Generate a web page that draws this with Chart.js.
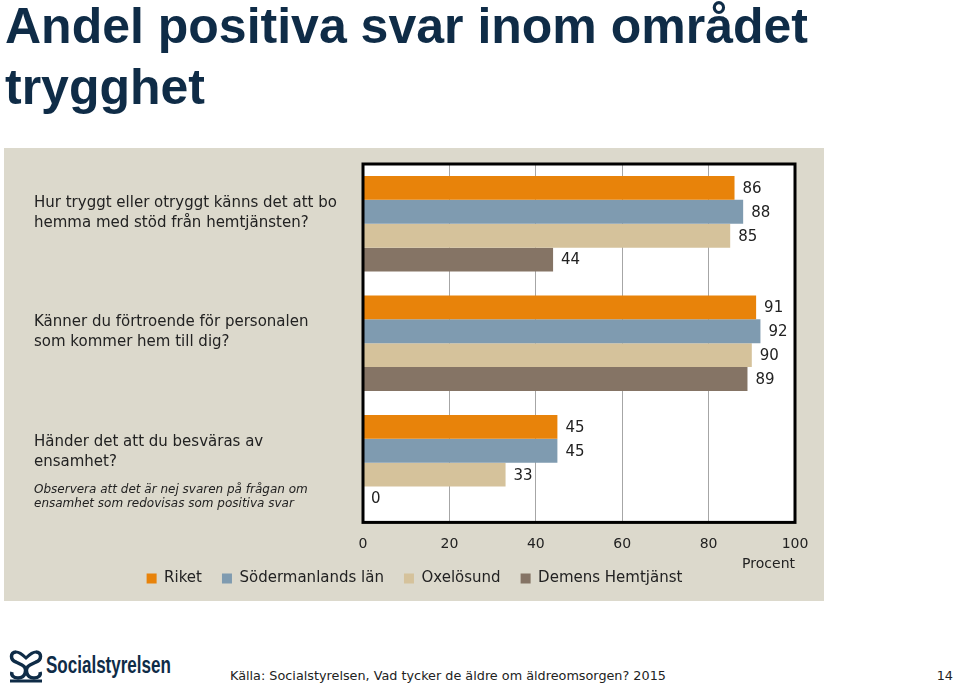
<!DOCTYPE html>
<html>
<head>
<meta charset="utf-8">
<script src="https://cdn.jsdelivr.net/npm/chart.js@4.4.1/dist/chart.umd.min.js"></script>
<style>
  body { margin: 0; background: #fff; font-family: "Liberation Sans", Arial, sans-serif; }
  #page { position: relative; width: 959px; height: 688px; overflow: hidden; }
  #title { position: absolute; left: 5px; top: -4px; width: 900px; font-weight: bold; font-size: 50px; line-height: 61px; color: #0f2c47; }
  #panel { position: absolute; left: 4px; top: 148px; width: 820px; height: 453px; background: #dcd9cc; }
  #logo { position: absolute; left: 8px; top: 648px; height: 36px; }
  #logotext { position: absolute; left: 46px; top: 652px; font-weight: bold; font-size: 23px; color: #0f2c47; transform: scaleX(0.74); transform-origin: left top; }
  #source { position: absolute; left: 230px; top: 668px; font-family: "DejaVu Sans", sans-serif; font-size: 12.8px; color: #222; }
  #pageno { position: absolute; right: 6px; top: 668px; font-family: "DejaVu Sans", sans-serif; font-size: 12.8px; color: #222; }
</style>
</head>
<body>
<div id="page">
  <div id="title">Andel positiva svar inom området trygghet</div>
  <div id="panel"><canvas id="chart"></canvas></div>
  <svg id="logo" width="36" height="36" viewBox="0 0 36 36">
    <path d="M8 4 C2 4 2 12 8 14 L14 17 C20 20 18 30 10 30 C5 30 3 27 4 24" fill="none" stroke="#0f2c47" stroke-width="3.5"/>
    <path d="M28 4 C34 4 34 12 28 14 L22 17 C16 20 18 30 26 30 C31 30 33 27 32 24" fill="none" stroke="#0f2c47" stroke-width="3.5"/>
    <path d="M8 4 C12 4 16 8 18 10 C20 8 24 4 28 4" fill="none" stroke="#0f2c47" stroke-width="3"/>
    <path d="M2 33 L34 33" stroke="#0f2c47" stroke-width="3"/>
  </svg>
  <div id="logotext">Socialstyrelsen</div>
  <div id="source">Källa: Socialstyrelsen, Vad tycker de äldre om äldreomsorgen? 2015</div>
  <div id="pageno">14</div>
</div>
<script>
// data
const categories = [
	["Hur tryggt eller otryggt känns det att bo", "hemma med stöd från hemtjänsten?"],
	["Känner du förtroende för personalen", "som kommer hem till dig?"],
	["Händer det att du besväras av", "ensamhet?"]
];
const seriesNames = ["Riket", "Södermanlands län", "Oxelösund", "Demens Hemtjänst"];
const riket = [86, 91, 45];
const sodermanland = [88, 92, 45];
const oxelosund = [85, 90, 33];
const demens = [44, 89, 0];
const xTicks = [0, 20, 40, 60, 80, 100];
const noteLines = ["Observera att det är nej svaren på frågan om", "ensamhet som redovisas som positiva svar"];

const colors = ["#e8830a", "#7f9bb0", "#d5c29b", "#857465"];
const fontFamily = '"DejaVu Sans", sans-serif';

// white plot background + black frame
const framePlugin = {
	id: 'frame',
	beforeDraw(chart) {
		const a = chart.chartArea, ctx = chart.ctx;
		ctx.save();
		ctx.fillStyle = '#fff';
		ctx.fillRect(a.left, a.top, a.right - a.left, a.bottom - a.top);
		ctx.restore();
	},
	afterDatasetsDraw(chart) {
		const a = chart.chartArea, ctx = chart.ctx;
		ctx.save();
		ctx.strokeStyle = '#000';
		ctx.lineWidth = 3;
		ctx.strokeRect(a.left, a.top, a.right - a.left, a.bottom - a.top);
		ctx.restore();
	}
};

// value labels at the bar ends
const valuePlugin = {
	id: 'values',
	afterDatasetsDraw(chart) {
		const ctx = chart.ctx;
		ctx.save();
		ctx.font = '15px ' + fontFamily;
		ctx.fillStyle = '#222';
		ctx.textAlign = 'left';
		ctx.textBaseline = 'middle';
		chart.data.datasets.forEach((ds, i) => {
			chart.getDatasetMeta(i).data.forEach((bar, j) => {
				ctx.fillText(ds.data[j], bar.x + 8, bar.y + 1);
			});
		});
		ctx.restore();
	}
};

// italic note under the third question
const notePlugin = {
	id: 'note',
	afterDraw(chart) {
		const ctx = chart.ctx;
		const y = chart.scales.y.getPixelForValue(2);
		ctx.save();
		ctx.font = 'italic 12px ' + fontFamily;
		ctx.fillStyle = '#222';
		ctx.textAlign = 'left';
		ctx.textBaseline = 'middle';
		noteLines.forEach((t, k) => ctx.fillText(t, chart.scales.y.left, y + 27 + k * 14));
		ctx.restore();
	}
};

const ctx = document.getElementById('chart');
const chart = new Chart(ctx, {
	type: 'bar',
	data: {
		labels: categories,
		datasets: [riket, sodermanland, oxelosund, demens].map((d, i) => ({
			label: seriesNames[i],
			data: d,
			backgroundColor: colors[i],
			borderWidth: 0,
			barPercentage: 1,
			categoryPercentage: 0.8
		}))
	},
	options: {
		indexAxis: 'y',
		responsive: true,
		maintainAspectRatio: false,
		animation: false,
		layout: { padding: { left: 30, right: 29, top: 16, bottom: 5 } },
		plugins: {
			tooltip: { enabled: false },
			legend: {
				position: 'bottom',
				labels: {
					boxWidth: 10,
					boxHeight: 10,
					padding: 20,
					color: '#222',
					font: { family: fontFamily, size: 15 }
				}
			}
		},
		scales: {
			x: {
				min: 0,
				max: 100,
				afterBuildTicks(axis) { axis.ticks = xTicks.map(v => ({ value: v })); },
				grid: { color: '#a6a6a6', drawTicks: false, lineWidth: 1 },
				border: { display: false },
				ticks: { padding: 14, color: '#222', font: { family: fontFamily, size: 14 } },
				title: {
					display: true,
					text: 'Procent',
					align: 'end',
					color: '#222',
					padding: { top: -11, bottom: -22 },
					font: { family: fontFamily, size: 14 }
				}
			},
			y: {
				afterFit(axis) {
					axis.width = 329;
					axis.paddingTop = 0;
					axis.paddingBottom = 0;
				},
				grid: { display: false },
				border: { display: false },
				ticks: {
					crossAlign: 'far',
					labelOffset: -11,
					padding: 0,
					color: '#222',
					font: { family: fontFamily, size: 15, lineHeight: 1.33 }
				}
			}
		}
	},
	plugins: [framePlugin, valuePlugin, notePlugin]
});
</script>
</body>
</html>
